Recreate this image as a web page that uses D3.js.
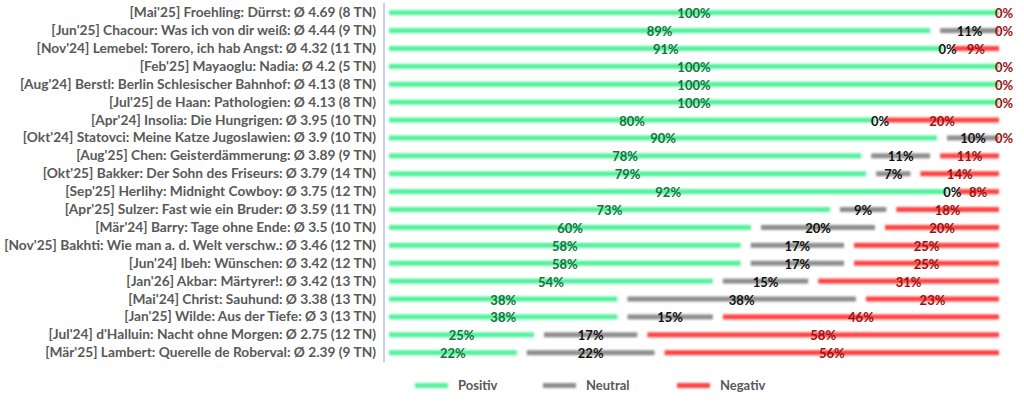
<!DOCTYPE html>
<html>
<head>
<meta charset="utf-8">
<script src="https://cdn.jsdelivr.net/npm/d3@7"></script>
<style>
  body { margin: 0; background: #fff; }
  svg text { font-family: Lato, "Open Sans", sans-serif; }
</style>
</head>
<body>
<svg id="canvas"></svg>
<script>
// titles and answer counts per book (Positiv / Neutral / Negativ)
let titles = [
  "[Mai'25] Froehling: Dürrst: Ø 4.69 (8 TN)",
  "[Jun'25] Chacour: Was ich von dir weiß: Ø 4.44 (9 TN)",
  "[Nov'24] Lemebel: Torero, ich hab Angst: Ø 4.32 (11 TN)",
  "[Feb'25] Mayaoglu: Nadia: Ø 4.2 (5 TN)",
  "[Aug'24] Berstl: Berlin Schlesischer Bahnhof: Ø 4.13 (8 TN)",
  "[Jul'25] de Haan: Pathologien: Ø 4.13 (8 TN)",
  "[Apr'24] Insolia: Die Hungrigen: Ø 3.95 (10 TN)",
  "[Okt'24] Statovci: Meine Katze Jugoslawien: Ø 3.9 (10 TN)",
  "[Aug'25] Chen: Geisterdämmerung: Ø 3.89 (9 TN)",
  "[Okt'25] Bakker: Der Sohn des Friseurs: Ø 3.79 (14 TN)",
  "[Sep'25] Herlihy: Midnight Cowboy: Ø 3.75 (12 TN)",
  "[Apr'25] Sulzer: Fast wie ein Bruder: Ø 3.59 (11 TN)",
  "[Mär'24] Barry: Tage ohne Ende: Ø 3.5 (10 TN)",
  "[Nov'25] Bakhti: Wie man a. d. Welt verschw.: Ø 3.46 (12 TN)",
  "[Jun'24] Ibeh: Wünschen: Ø 3.42 (12 TN)",
  "[Jan'26] Akbar: Märtyrer!: Ø 3.42 (13 TN)",
  "[Mai'24] Christ: Sauhund: Ø 3.38 (13 TN)",
  "[Jan'25] Wilde: Aus der Tiefe: Ø 3 (13 TN)",
  "[Jul'24] d'Halluin: Nacht ohne Morgen: Ø 2.75 (12 TN)",
  "[Mär'25] Lambert: Querelle de Roberval: Ø 2.39 (9 TN)"
];
let positiv = [8, 8, 10, 5, 8, 8, 8, 9, 7, 11, 11, 8, 6, 7, 7, 7, 5, 5, 3, 2];
let neutral = [0, 1, 0, 0, 0, 0, 0, 1, 1, 1, 0, 1, 2, 2, 2, 2, 5, 2, 2, 2];
let negativ = [0, 0, 1, 0, 0, 0, 2, 0, 1, 2, 1, 2, 2, 3, 3, 4, 3, 6, 7, 5];

let seriesNames = ['Positiv', 'Neutral', 'Negativ'];
let barColors = ['#52f29c', '#8e8e8e', '#ff4242'];
let textColors = ['#17703c', '#111111', '#9a1010'];

let width = 1024;
let height = 401;

let canvas = d3.select('#canvas')
  .attr('width', width)
  .attr('height', height);

let defs = canvas.append('defs');
defs.append('filter')
  .attr('id', 'soft')
  .attr('x', '-10%').attr('y', '-200%')
  .attr('width', '120%').attr('height', '500%')
  .append('feGaussianBlur')
  .attr('stdDeviation', 1.1);

let rows = titles.map((t, i) => {
  let total = positiv[i] + neutral[i] + negativ[i];
  let vals = [positiv[i] / total, neutral[i] / total, negativ[i] / total];
  let start = 0;
  let segs = vals.map((v, k) => {
    let s = { row: i, key: k, x0: start, x1: start + v, value: v };
    start += v;
    return s;
  });
  return { title: t, segs: segs };
});

let xScale = d3.scaleLinear().domain([0, 1]).range([384, 1004]);
let yScale = d3.scalePoint()
  .domain(d3.range(titles.length))
  .range([12.7, 352.7]);

let inset = 5;

// axis line
canvas.append('line')
  .attr('x1', 384).attr('x2', 384)
  .attr('y1', 3).attr('y2', 362)
  .attr('stroke', '#8fa0e0')
  .attr('stroke-width', 1);

// row labels
let labels = canvas.append('g')
  .selectAll('text')
  .data(rows)
  .enter()
  .append('text')
  .attr('x', 376)
  .attr('y', (d, i) => yScale(i) + 4.5)
  .attr('text-anchor', 'end')
  .attr('fill', '#595959')
  .attr('font-size', '12px')
  .attr('font-weight', 700)
  .text(d => d.title);

// fit the widest label to the space the original uses
let widest = d3.max(labels.nodes(), n => n.getComputedTextLength());
let fitSize = 12 * 372 / widest;
labels.attr('font-size', fitSize + 'px');

let allSegs = rows.flatMap(r => r.segs);

// bars
canvas.append('g')
  .attr('filter', 'url(#soft)')
  .selectAll('rect')
  .data(allSegs.filter(s => s.value > 0))
  .enter()
  .append('rect')
  .attr('x', s => xScale(s.x0) + inset)
  .attr('width', s => Math.max(0, xScale(s.x1) - xScale(s.x0) - 2 * inset))
  .attr('y', s => yScale(s.row) - 2.5)
  .attr('height', 5)
  .attr('fill', s => barColors[s.key]);

// value labels (neutral 0% hidden when negative is 0% as well)
canvas.append('g')
  .selectAll('text')
  .data(allSegs.filter(s => !(s.key === 1 && s.value === 0 && rows[s.row].segs[2].value === 0)))
  .enter()
  .append('text')
  .attr('x', s => (xScale(s.x0) + xScale(s.x1)) / 2)
  .attr('y', s => yScale(s.row) + 5.5)
  .attr('text-anchor', 'middle')
  .attr('fill', s => textColors[s.key])
  .attr('font-size', '13px')
  .attr('font-weight', 700)
  .text(s => Math.round(s.value * 100) + '%');

// legend
let legendX = [415, 543, 677];
let legend = canvas.append('g');
legend.selectAll('rect')
  .data(seriesNames)
  .enter()
  .append('rect')
  .attr('filter', 'url(#soft)')
  .attr('x', (d, i) => legendX[i])
  .attr('y', 383)
  .attr('width', 33)
  .attr('height', 5)
  .attr('fill', (d, i) => barColors[i]);
legend.selectAll('text')
  .data(seriesNames)
  .enter()
  .append('text')
  .attr('x', (d, i) => legendX[i] + 43)
  .attr('y', 390)
  .attr('fill', '#595959')
  .attr('font-size', '13px')
  .attr('font-weight', 700)
  .text(d => d);
</script>
</body>
</html>
